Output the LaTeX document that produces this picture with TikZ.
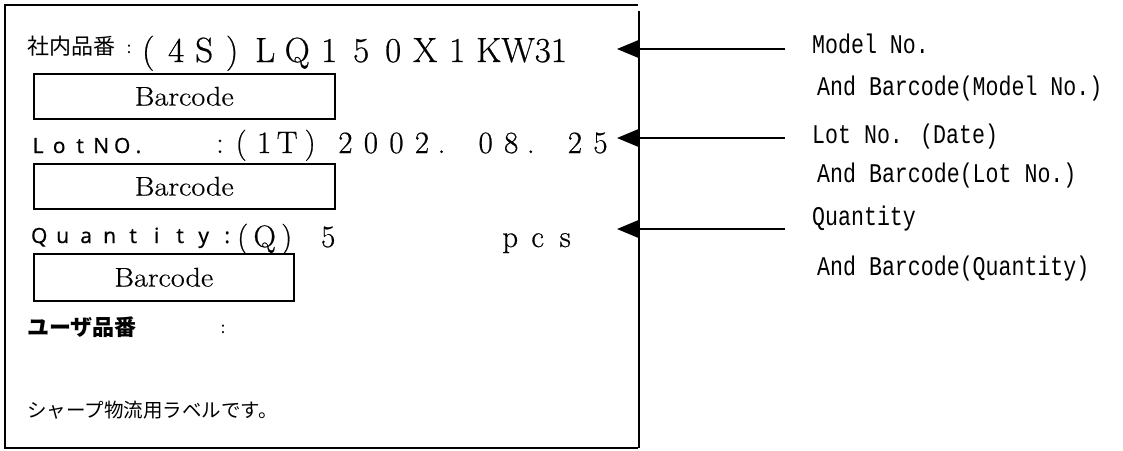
\documentclass[tikz,border=0pt]{standalone}
\usepackage{fontspec}
\usetikzlibrary{arrows.meta}
\newfontfamily\jpfont{Noto Sans CJK JP}
\newfontfamily\lsans[FakeBold=0.3]{Noto Sans}
\newfontfamily\serifw[FakeBold=0.6]{Latin Modern Roman}
\newfontfamily\bcfont[FakeStretch=1.12,FakeBold=0.4]{Latin Modern Roman}
\newfontfamily\rmono[FakeStretch=0.8]{Liberation Mono}
\newcommand{\fwc}[2]{\makebox[#1pt][c]{#2}}
\newcommand{\fwl}[2]{\makebox[#1pt][l]{\hspace{3pt}#2}}
\tikzset{
  txt/.style={inner sep=0pt, anchor=base west},
  jptxt/.style={inner sep=0pt, anchor=west},
  serifbig/.style={font=\serifw\fontsize{35}{37}\selectfont},
  serifmid/.style={font=\serifw\fontsize{31}{33}\selectfont},
  sanslab/.style={font=\lsans\fontsize{21}{23}\selectfont},
  jplab/.style={font=\jpfont\fontsize{22}{24}\selectfont},
  jpbold/.style={font=\jpfont\bfseries\fontsize{22}{24}\selectfont},
  jpsmall/.style={font=\jpfont\fontsize{19.5}{22}\selectfont},
  monolab/.style={inner sep=0pt, anchor=base west, font=\rmono\fontsize{27}{29}\selectfont},
  barbox/.style={draw, line width=1.5pt, inner sep=0pt, font=\bcfont\fontsize{27}{29}\selectfont},
  frame/.style={line width=2pt},
  arr/.style={line width=1.5pt, -{Triangle[length=22pt,width=18pt]}}
}
\begin{document}
\begin{tikzpicture}[x=1pt,y=-1pt]
\useasboundingbox (0,0) rectangle (1123,450);
% frame
\coordinate (tl) at (5,5);
\coordinate (tr) at (638,5);
\coordinate (bl) at (5,448);
\coordinate (br) at (638,448);
\coordinate (rt) at (639,11);
\coordinate (rb) at (639,448);
\draw[frame] (tr) -- (tl) -- (bl) -- (br);
\draw[frame] (rt) -- (rb);

% line 1
\node[jptxt, jplab] (l1) at (27,46) {社内品番};
\node[inner sep=0pt, anchor=center, font=\jpfont\fontsize{16}{18}\selectfont] (c1) at (129,49) {:};
\node[txt, serifbig] (v1) at (134,62) {\fwc{28}{(}\fwc{28}{4}\fwc{28}{S}\fwc{28}{)}\hspace{3pt}\fwc{32}{L}\fwc{32}{Q}\fwc{32}{1}\fwc{32}{5}\fwc{32}{0}\fwc{32}{X}\fwc{32}{1}\hspace{3pt}KW31};
\node[barbox, minimum width=301pt, minimum height=45pt, anchor=north west] (b1) at (33,73) {Barcode};

% line 2
\node[txt, sanslab] (l2) at (27.5,153) {\fwc{21}{L}\fwc{21}{o}\fwc{21}{t}\fwc{21}{N}\fwc{21}{O}\fwl{21}{.}};
\node[inner sep=0pt, anchor=base, serifmid] (c2) at (220,153) {:};
\node[txt, serifmid] (v2) at (229.5,153) {\fwc{23}{(}\fwc{23}{1}\fwc{23}{T}\fwc{23}{)}\hspace{11pt}\fwc{25.5}{2}\fwc{25.5}{0}\fwc{25.5}{0}\fwc{25.5}{2}\fwl{25.5}{.}\hspace{12.75pt}\fwc{25.5}{0}\fwc{25.5}{8}\fwl{25.5}{.}\hspace{12.75pt}\fwc{25.5}{2}\fwc{25.5}{5}};
\node[barbox, minimum width=301pt, minimum height=45pt, anchor=north west] (b2) at (33,163) {Barcode};

% line 3
\node[txt, sanslab] (l3) at (27.25,243) {\fwc{23.5}{Q}\fwc{23.5}{u}\fwc{23.5}{a}\fwc{23.5}{n}\fwc{23.5}{t}\fwc{23.5}{i}\fwc{23.5}{t}\fwc{23.5}{y}\fwc{23.5}{:}};
\node[txt, serifmid] (v3) at (236,247) {\fwc{13}{(}\fwc{31}{Q}\fwc{13}{)}\hspace{22.5pt}\fwc{25}{5}\hspace{155.75pt}\fwc{27.5}{p}\fwc{27.5}{c}\fwc{27.5}{s}};
\node[barbox, minimum width=260pt, minimum height=47pt, anchor=north west] (b3) at (33,253) {Barcode};

% line 4
\node[jptxt, jpbold] (l4) at (27,327) {ユーザ品番};
\node[inner sep=0pt, anchor=center, font=\jpfont\fontsize{16}{18}\selectfont] (c4) at (223,329) {:};

% line 5
\node[jptxt, jpsmall] (l5) at (27,410) {シャープ物流用ラベルです。};

% right labels
\node[monolab] (m1) at (812,53) {Model No.};
\node[monolab] (m2) at (817,95) {And Barcode(Model No.)};
\node[monolab] (m3) at (812,143) {Lot No. (Date)};
\node[monolab] (m4) at (817,182) {And Barcode(Lot No.)};
\node[monolab] (m5) at (812,225) {Quantity};
\node[monolab] (m6) at (817,275) {And Barcode(Quantity)};

% arrows
\coordinate (a1s) at (785,49);
\coordinate (a1t) at (617,49);
\coordinate (a2s) at (785,138);
\coordinate (a2t) at (617,138);
\coordinate (a3s) at (785,229);
\coordinate (a3t) at (617,229);
\draw[arr] (a1s) -- (a1t);
\draw[arr] (a2s) -- (a2t);
\draw[arr] (a3s) -- (a3t);
\end{tikzpicture}
\end{document}
